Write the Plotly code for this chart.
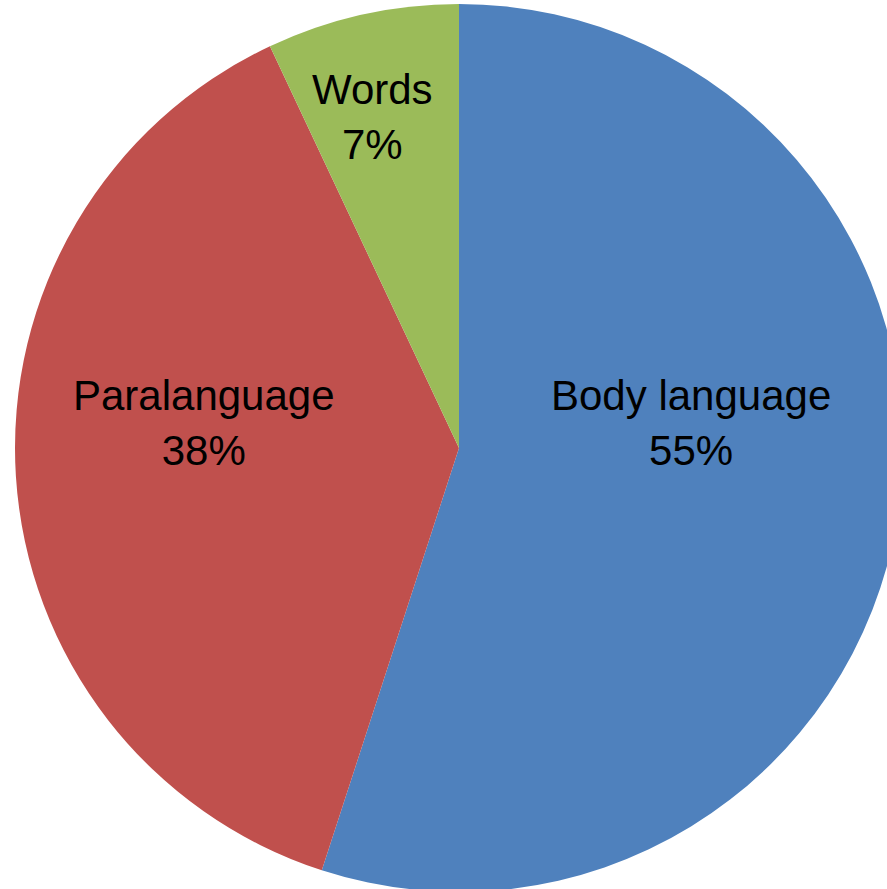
import plotly.graph_objects as go

labels = ["Body language", "Paralanguage", "Words"]
values = [55, 38, 7]
colors = ["#4F81BD", "#C0504D", "#9BBB59"]

# label anchor positions (paper fractions) for the data labels
label_pos = [(0.7527, 0.5282), (0.2222, 0.5282), (0.4063, 0.8733)]

total = sum(values)

fig = go.Figure(go.Pie(
    labels=labels,
    values=values,
    sort=False,
    direction="clockwise",
    rotation=0,
    marker=dict(colors=colors, line=dict(width=0)),
    textinfo="none",
    showlegend=False,
    hoverinfo="label+percent",
))

for lab, val, (px, py) in zip(labels, values, label_pos):
    fig.add_annotation(
        x=px, y=py, xref="paper", yref="paper",
        text=f"{lab}<br>{round(val / total * 100)}%",
        showarrow=False,
        xanchor="center", yanchor="middle",
        font=dict(family="Liberation Sans, Arial, sans-serif", size=42, color="black"),
    )

fig.update_layout(
    width=918,
    height=896,
    margin=dict(l=0, r=0, t=4, b=4),
    paper_bgcolor="white",
    plot_bgcolor="white",
)

fig.write_html(
    "out.html",
    config={"displayModeBar": False},
    post_script="document.body.style.margin='0';document.body.style.overflow='hidden';document.documentElement.style.overflow='hidden';",
)
